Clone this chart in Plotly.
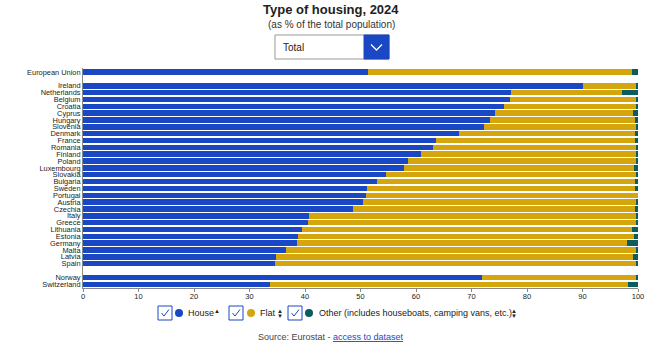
import plotly.graph_objects as go

countries = ["European Union", "Ireland", "Netherlands", "Belgium", "Croatia", "Cyprus", "Hungary",
             "Slovenia", "Denmark", "France", "Romania", "Finland", "Poland", "Luxembourg",
             "Slovakia", "Bulgaria", "Sweden", "Portugal", "Austria", "Czechia", "Italy", "Greece",
             "Lithuania", "Estonia", "Germany", "Malta", "Latvia", "Spain", "Norway", "Switzerland"]
house = [51.4, 90.1, 77.1, 76.9, 75.9, 74.2, 73.3, 72.2, 67.7, 63.6, 63.1, 60.9, 58.5, 57.8,
         54.6, 53.0, 51.1, 50.9, 50.4, 48.6, 40.7, 40.6, 39.5, 38.7, 38.5, 36.6, 34.8, 34.6, 71.9, 33.7]
flat = [47.6, 9.6, 20.0, 22.7, 23.9, 24.9, 26.2, 27.4, 31.7, 35.9, 36.5, 38.8, 41.2, 41.4,
        45.1, 46.5, 48.4, 49.1, 49.3, 50.8, 59.0, 59.2, 59.4, 60.6, 59.5, 63.0, 64.3, 65.2, 27.7, 64.5]
other = [1.0, 0.3, 2.9, 0.4, 0.2, 0.9, 0.5, 0.4, 0.6, 0.5, 0.4, 0.3, 0.3, 0.8,
         0.3, 0.5, 0.5, 0.0, 0.3, 0.6, 0.3, 0.2, 1.1, 0.7, 2.0, 0.4, 0.9, 0.2, 0.4, 1.8]
x_ticks = [0, 10, 20, 30, 40, 50, 60, 70, 80, 90, 100]

# row positions: EU, gap, EU members, gap, EFTA
pos = [0] + list(range(2, 29)) + [30, 31]

C_HOUSE = "#1a47c4"
C_FLAT = "#d4a50c"
C_OTHER = "#0b5c5c"
FONT = "Liberation Sans, Arial, sans-serif"

fig = go.Figure()
for name, vals, col in [("House", house, C_HOUSE), ("Flat", flat, C_FLAT), ("Other", other, C_OTHER)]:
    fig.add_trace(go.Bar(y=pos, x=vals, orientation="h", name=name, marker=dict(color=col, line=dict(width=0)),
                         width=0.8, showlegend=False))

W, H = 662, 348
L, R, T, B = 83, 24, 68, 60
pw, ph = W - L - R, H - T - B


def px(x):
    return (x - L) / pw


def py(y):
    return (H - B - y) / ph


fig.update_layout(
    width=W, height=H, autosize=False,
    margin=dict(l=L, r=R, t=T, b=B),
    barmode="stack", bargap=0,
    plot_bgcolor="white", paper_bgcolor="white",
    font=dict(family=FONT, size=8, color="#222"),
    xaxis=dict(range=[0, 100], tickvals=x_ticks, showgrid=False, zeroline=False,
               showline=True, linecolor="#888", linewidth=1, ticks="outside", ticklen=3,
               tickcolor="#888", tickfont=dict(size=7.5, color="#222"), ticklabelstandoff=-2),
    yaxis=dict(range=[31.55, -0.6], tickvals=pos, ticktext=countries, showgrid=False,
               zeroline=False, showline=True, linecolor="#888", linewidth=1, ticks="",
               tickfont=dict(size=7.4, color="#222")),
)

annotations = [
    dict(x=px(331), y=py(9), text="<b>Type of housing, 2024</b>", font=dict(size=13, color="#222")),
    dict(x=px(331), y=py(25), text="(as % of the total population)", font=dict(size=10, color="#333")),
    dict(x=px(281), y=py(47), text="Total", xanchor="left", font=dict(size=10, color="#222")),
    dict(x=px(331), y=py(337), text='Source: Eurostat - <a href="https://ec.europa.eu/eurostat" style="color:#1a47c4"><u>access to dataset</u></a>',
         font=dict(size=9, color="#444")),
]
for a in annotations:
    a.update(xref="paper", yref="paper", showarrow=False)
    a.setdefault("xanchor", "center")
    a["yanchor"] = "middle"
fig.update_layout(annotations=annotations)

P = dict(xref="paper", yref="paper")
shapes = [
    dict(type="rect", x0=px(275), x1=px(389), y0=py(35), y1=py(59), line=dict(color="#999", width=1), fillcolor="white", **P),
    dict(type="rect", x0=px(364), x1=px(389), y0=py(35), y1=py(59), line=dict(color=C_HOUSE, width=1), fillcolor=C_HOUSE, **P),
    dict(type="path", path=f"M {px(371)} {py(44.5)} L {px(376.5)} {py(50)} L {px(382)} {py(44.5)}",
         line=dict(color="white", width=1.3), **P),
]

# legend (custom): checkbox, dot, label, sort arrows
legend_items = [
    (158, 179, 186, "House", C_HOUSE, 217, True),
    (229, 251, 258, "Flat", C_FLAT, 280, False),
    (288, 309, 317, "Other (includes houseboats, camping vans, etc.)", C_OTHER, 514, False),
]
ly = 313
for cbx, dotx, tx, label, col, arx, up_only in legend_items:
    shapes.append(dict(type="rect", x0=px(cbx), x1=px(cbx + 14), y0=py(ly - 7), y1=py(ly + 7),
                       line=dict(color="#1a47c4", width=1), fillcolor="white", **P))
    shapes.append(dict(type="path", path=f"M {px(cbx + 3.5)} {py(ly)} L {px(cbx + 6)} {py(ly + 3)} L {px(cbx + 11)} {py(ly - 3.5)}",
                       line=dict(color="#1a47c4", width=1), **P))
    shapes.append(dict(type="circle", x0=px(dotx - 4), x1=px(dotx + 4), y0=py(ly + 4), y1=py(ly - 4),
                       line=dict(color=col, width=0), fillcolor=col, **P))
    fig.add_annotation(x=px(tx), y=py(ly), xref="paper", yref="paper", text=label, showarrow=False,
                       xanchor="left", yanchor="middle", font=dict(size=9, color="#222"))
    fig.add_annotation(x=px(arx), y=py(ly - 2.5), xref="paper", yref="paper", text="▲", showarrow=False,
                       xanchor="center", yanchor="middle", font=dict(size=6, color="#222"))
    if not up_only:
        fig.add_annotation(x=px(arx), y=py(ly + 2.5), xref="paper", yref="paper", text="▼", showarrow=False,
                           xanchor="center", yanchor="middle", font=dict(size=6, color="#222"))

fig.update_layout(shapes=shapes)
fig.write_html("out.html")
